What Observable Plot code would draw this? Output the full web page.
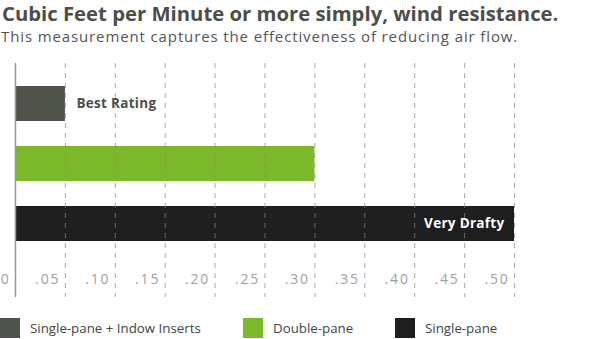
<!DOCTYPE html>
<html><head><meta charset="utf-8">
<script src="https://cdn.jsdelivr.net/npm/d3@7"></script>
<script src="https://cdn.jsdelivr.net/npm/@observablehq/plot@0.6"></script>
<style>
  html,body{margin:0;padding:0;background:#fff;width:600px;height:339px;overflow:hidden;font-family:"Open Sans",sans-serif;}
  #title{position:absolute;left:2px;top:0px;font-size:20.3px;font-weight:700;color:#4d4e48;white-space:nowrap;line-height:26px;}
  #subtitle{position:absolute;left:1px;top:26px;font-size:15px;color:#555;white-space:nowrap;line-height:20px;letter-spacing:0.88px;}
  #chart{position:absolute;left:0;top:60px;}
  #legend{position:absolute;left:0;top:318px;width:600px;height:20px;}
  .item{position:absolute;top:0;height:20px;display:flex;align-items:center;font-size:13.3px;color:#444;}
  .sw{width:20px;height:20px;margin-right:10px;}
  svg text.tick-label{letter-spacing:1.8px;}
  svg text.bar-label{letter-spacing:0.3px;}
</style></head>
<body>
<div id="title">Cubic Feet per Minute or more simply, wind resistance.</div>
<div id="subtitle">This measurement captures the effectiveness of reducing air flow.</div>
<div id="chart"></div>
<div id="legend"></div>
<script>
const categories = ["Single-pane + Indow Inserts", "Double-pane", "Single-pane"];
const values = [0.05, 0.30, 0.50];
const colors = ["#50534a", "#7cb92a", "#1e1e1e"];
const barLabels = ["Best Rating", "", "Very Drafty"];
const tickValues = [0, 0.05, 0.10, 0.15, 0.20, 0.25, 0.30, 0.35, 0.40, 0.45, 0.50];
const legendX = [0, 243, 395];

const data = categories.map((c, i) => ({cat: c, value: values[i], label: barLabels[i]}));
const fmt = d => d === 0 ? "0" : d3.format(".2f")(d).replace(/^0/, "");

const plot = Plot.plot({
  width: 600,
  height: 245,
  marginLeft: 15,
  marginRight: 86,
  marginTop: 3,
  marginBottom: 8,
  style: {fontFamily: "'Open Sans', sans-serif", background: "transparent"},
  x: {domain: [0, 0.5], axis: null},
  y: {domain: categories, range: [0, 206], padding: 25/60, axis: null},
  color: {domain: categories, range: colors},
  marks: [
    Plot.barX(data, {x: "value", y: "cat", fill: "cat"}),
    Plot.gridX(tickValues.filter(t => t > 0), {stroke: "#888", strokeOpacity: 0.7, strokeWidth: 1, strokeDasharray: "5,5"}),
    Plot.ruleX([0], {stroke: "#999", strokeWidth: 1.5}),
    Plot.text(tickValues, {ariaDescription: "tick-labels", x: d => d, frameAnchor: "bottom", dy: -14, dx: -5, textAnchor: "end", text: fmt, fill: "#a0a0a0", fontSize: 14}),
    Plot.text(data.filter(d => d.label && d.value < 0.2), {ariaDescription: "bar-labels", x: "value", y: "cat", text: "label", dx: 11, textAnchor: "start", fill: "#4d4d4d", fontSize: 13.5, fontWeight: "bold"}),
    Plot.text(data.filter(d => d.label && d.value >= 0.2), {ariaDescription: "bar-labels", x: "value", y: "cat", text: "label", dx: -10, textAnchor: "end", fill: "#ffffff", fontSize: 13.5, fontWeight: "bold"})
  ]
});
d3.select(plot).selectAll('g[aria-description="tick-labels"] text').classed("tick-label", true);
d3.select(plot).selectAll('g[aria-description="bar-labels"] text').classed("bar-label", true);
document.getElementById("chart").appendChild(plot);

const legend = document.getElementById("legend");
categories.forEach((c, i) => {
  const item = document.createElement("div");
  item.className = "item";
  item.style.left = legendX[i] + "px";
  const sw = document.createElement("div");
  sw.className = "sw";
  sw.style.background = colors[i];
  const tx = document.createElement("span");
  tx.textContent = c;
  item.appendChild(sw);
  item.appendChild(tx);
  legend.appendChild(item);
});
</script>
</body></html>
